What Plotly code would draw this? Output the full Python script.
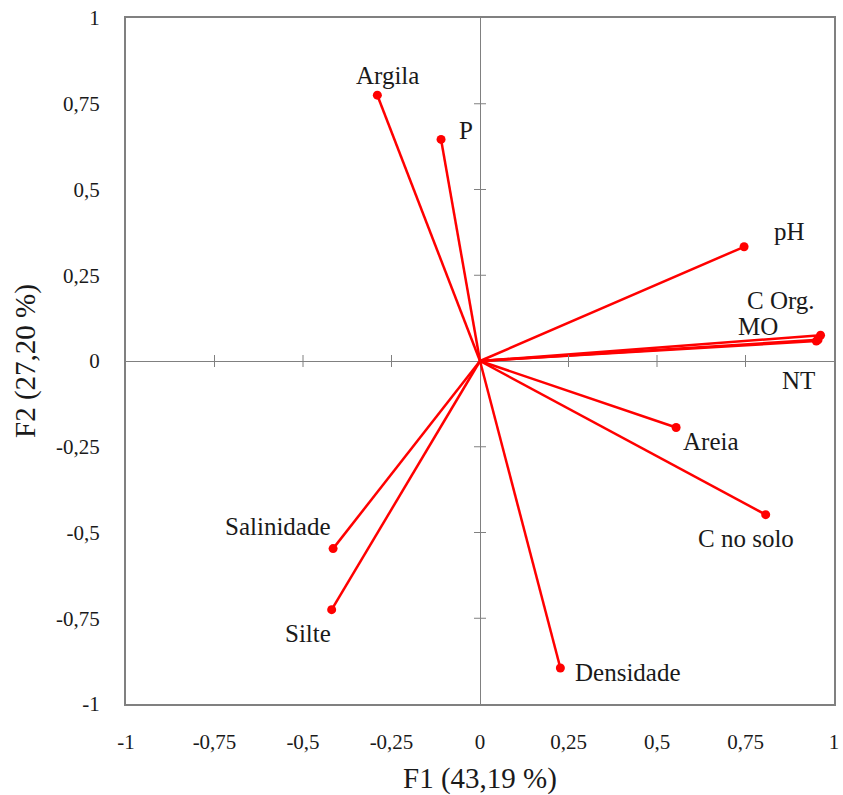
import plotly.graph_objects as go

# PCA loadings of soil variables on the first two factors
variables = ["Argila", "P", "pH", "C Org.", "MO", "NT", "Areia", "C no solo",
             "Densidade", "Salinidade", "Silte"]
f1 = [-0.29, -0.11, 0.746, 0.962, 0.955, 0.950, 0.554, 0.807, 0.227, -0.415, -0.419]
f2 = [0.775, 0.646, 0.333, 0.075, 0.062, 0.058, -0.194, -0.448, -0.895, -0.547, -0.725]

tick_vals = [-1, -0.75, -0.5, -0.25, 0, 0.25, 0.5, 0.75, 1]
tick_text = ["-1", "-0,75", "-0,5", "-0,25", "0", "0,25", "0,5", "0,75", "1"]

# label placement (pixel offsets from each arrow tip)
label_pos = {
    "Argila": (10, 20, "center"),
    "P": (16, 9, "left"),
    "pH": (28, 15, "left"),
    "C Org.": (-40, 35, "center"),
    "MO": (-60, 13, "center"),
    "NT": (-18, -39, "center"),
    "Areia": (5, -14, "left"),
    "C no solo": (-20, -24, "center"),
    "Densidade": (13, -5, "left"),
    "Salinidade": (0, 22, "right"),
    "Silte": (-24, -24, "center"),
}

RED = "#ff0000"
GRAY = "#808080"
FONT = "Liberation Serif, Times New Roman, serif"

fig = go.Figure()

# vectors from the origin
lx, ly = [], []
for a, b in zip(f1, f2):
    lx += [0, a, None]
    ly += [0, b, None]
fig.add_trace(go.Scatter(x=lx, y=ly, mode="lines",
                         line=dict(color=RED, width=2.5), hoverinfo="skip",
                         showlegend=False))
fig.add_trace(go.Scatter(x=f1, y=f2, mode="markers", text=variables,
                         marker=dict(color=RED, size=9), showlegend=False))

for name, a, b in zip(variables, f1, f2):
    dx, dy, anchor = label_pos[name]
    fig.add_annotation(x=a, y=b, text=name, showarrow=False,
                       xshift=dx, yshift=dy, xanchor=anchor, yanchor="middle",
                       font=dict(family=FONT, size=25, color="#1a1a1a"))

# small tick marks crossing the two zero lines
for t in tick_vals:
    if t in (-1, 0, 1):
        continue
    fig.add_shape(type="line", xref="x", yref="y", x0=t, x1=t,
                  ysizemode="pixel", yanchor=0, y0=-6, y1=6,
                  line=dict(color=GRAY, width=1))
    fig.add_shape(type="line", xref="x", yref="y", y0=t, y1=t,
                  xsizemode="pixel", xanchor=0, x0=-6, x1=6,
                  line=dict(color=GRAY, width=1))

axis_common = dict(
    range=[-1, 1], tickvals=tick_vals, ticktext=tick_text,
    showgrid=False, zeroline=True, zerolinecolor=GRAY, zerolinewidth=1,
    showline=True, linecolor=GRAY, linewidth=2, mirror=True,
    ticks="", tickfont=dict(family=FONT, size=21, color="#1a1a1a"),
    title_font=dict(family=FONT, size=29, color="#1a1a1a"),
)

fig.update_xaxes(**axis_common, title_text="F1 (43,19 %)",
                 ticklabelstandoff=18, title_standoff=16)
fig.update_yaxes(**axis_common, title_text="F2 (27,20 %)",
                 ticklabelstandoff=20, title_standoff=12)

fig.update_layout(
    width=843, height=795,
    margin=dict(l=126, r=4, t=18, b=90),
    paper_bgcolor="white", plot_bgcolor="white",
)

fig.write_html("out.html")
